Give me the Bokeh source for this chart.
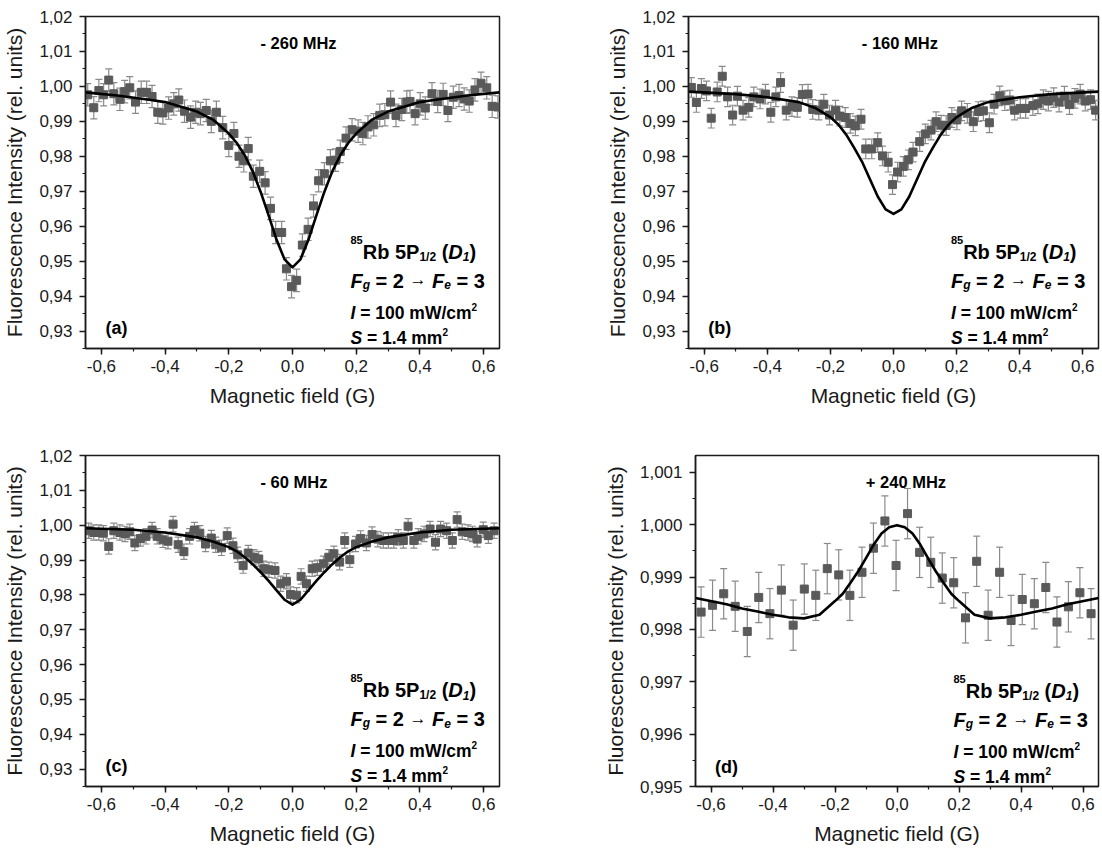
import numpy as np
from bokeh.plotting import figure
from bokeh.models import (ColumnDataSource, Whisker, TeeHead, Label, FixedTicker,
                          CustomJSTickFormatter)
from bokeh.layouts import column, row
from bokeh.embed import file_html
from bokeh.resources import INLINE

FONT = "Liberation Sans"

# ---------------- data ----------------
A_X = [-0.643,-0.624,-0.608,-0.593,-0.577,-0.561,-0.542,-0.527,-0.511,-0.493,-0.475,-0.458,-0.441,-0.423,-0.407,-0.389,-0.373,-0.357,-0.339,-0.320,-0.304,-0.289,-0.271,-0.255,-0.239,-0.219,-0.200,-0.184,-0.168,-0.153,-0.139,-0.123,-0.103,-0.086,-0.069,-0.053,-0.034,-0.019,-0.003,0.013,0.031,0.049,0.066,0.082,0.100,0.119,0.135,0.150,0.168,0.187,0.206,0.221,0.237,0.255,0.274,0.290,0.308,0.325,0.343,0.359,0.369,0.385,0.401,0.417,0.438,0.456,0.473,0.488,0.505,0.523,0.539,0.555,0.573,0.592,0.610,0.627,0.645]
A_Y = [0.9976,0.9939,0.9988,0.9976,1.0018,0.9979,0.9963,0.9985,0.9996,0.9955,0.9983,0.9983,0.9971,0.9926,0.9924,0.9938,0.9950,0.9961,0.9929,0.9912,0.9926,0.9922,0.9931,0.9900,0.9926,0.9882,0.9831,0.9865,0.9800,0.9787,0.9822,0.9743,0.9757,0.9724,0.9651,0.9582,0.9582,0.9478,0.9427,0.9445,0.9546,0.9591,0.9658,0.9730,0.9750,0.9787,0.9789,0.9814,0.9852,0.9876,0.9872,0.9865,0.9884,0.9890,0.9917,0.9919,0.9955,0.9917,0.9934,0.9955,0.9957,0.9922,0.9950,0.9938,0.9979,0.9957,0.9977,0.9931,0.9969,0.9974,0.9964,0.9958,0.9990,1.0009,0.9996,0.9943,0.9941]
A_ERR = 0.0032
A_FIT_X = [-0.65,-0.55,-0.45,-0.4,-0.3,-0.25,-0.2,-0.175,-0.15,-0.125,-0.1,-0.075,-0.05,-0.025,0.0,0.025,0.05,0.075,0.1,0.125,0.15,0.175,0.2,0.25,0.3,0.4,0.45,0.55,0.65]
A_FIT_Y = [0.9983,0.9974,0.9962,0.9955,0.9928,0.9905,0.9865,0.9838,0.9803,0.9757,0.9698,0.9631,0.9561,0.9505,0.9482,0.9505,0.9561,0.9631,0.9698,0.9757,0.9803,0.9838,0.9865,0.9905,0.9928,0.9955,0.9962,0.9974,0.9983]

B_X = [-0.641,-0.625,-0.609,-0.593,-0.578,-0.559,-0.543,-0.526,-0.510,-0.495,-0.477,-0.459,-0.443,-0.423,-0.406,-0.389,-0.373,-0.358,-0.340,-0.322,-0.305,-0.289,-0.271,-0.256,-0.237,-0.221,-0.203,-0.184,-0.170,-0.153,-0.137,-0.121,-0.103,-0.088,-0.069,-0.050,-0.035,-0.017,-0.003,0.013,0.031,0.047,0.062,0.083,0.101,0.119,0.135,0.151,0.167,0.185,0.201,0.216,0.234,0.253,0.269,0.285,0.304,0.319,0.337,0.353,0.369,0.384,0.402,0.419,0.442,0.458,0.475,0.491,0.508,0.525,0.542,0.558,0.575,0.592,0.608,0.625,0.641]
B_Y = [0.9997,0.9954,0.9994,0.9987,0.9909,0.9984,1.0029,0.9970,0.9918,0.9972,0.9932,0.9940,0.9970,0.9964,0.9978,0.9926,0.9970,1.0011,0.9932,0.9942,0.9940,0.9977,0.9978,0.9934,0.9932,0.9949,0.9918,0.9932,0.9915,0.9911,0.9894,0.9887,0.9906,0.9821,0.9821,0.9839,0.9801,0.9783,0.9719,0.9755,0.9771,0.9790,0.9812,0.9842,0.9864,0.9875,0.9899,0.9889,0.9888,0.9911,0.9904,0.9930,0.9923,0.9899,0.9928,0.9930,0.9896,0.9949,0.9973,0.9959,0.9961,0.9932,0.9937,0.9937,0.9945,0.9950,0.9962,0.9958,0.9968,0.9955,0.9972,0.9948,0.9966,0.9978,0.9958,0.9962,0.9932]
B_ERR = 0.0028
B_FIT_X = [-0.65,-0.5,-0.4,-0.3,-0.25,-0.2,-0.175,-0.15,-0.125,-0.1,-0.075,-0.05,-0.025,0.0,0.025,0.05,0.075,0.1,0.125,0.15,0.175,0.2,0.25,0.3,0.4,0.5,0.65]
B_FIT_Y = [0.9985,0.9978,0.9969,0.9955,0.9939,0.9912,0.9891,0.9862,0.9825,0.9785,0.9735,0.9685,0.9648,0.9635,0.9648,0.9685,0.9735,0.9785,0.9825,0.9862,0.9891,0.9912,0.9939,0.9955,0.9969,0.9978,0.9985]

C_X = [-0.640,-0.624,-0.608,-0.594,-0.577,-0.561,-0.542,-0.526,-0.511,-0.495,-0.477,-0.460,-0.441,-0.425,-0.407,-0.391,-0.375,-0.359,-0.341,-0.323,-0.308,-0.291,-0.273,-0.255,-0.241,-0.223,-0.205,-0.187,-0.172,-0.155,-0.139,-0.121,-0.106,-0.090,-0.074,-0.055,-0.037,-0.019,-0.006,0.013,0.027,0.044,0.062,0.078,0.097,0.114,0.130,0.148,0.164,0.180,0.198,0.214,0.232,0.250,0.268,0.285,0.301,0.318,0.332,0.348,0.363,0.381,0.395,0.413,0.432,0.449,0.465,0.484,0.502,0.517,0.533,0.551,0.565,0.580,0.599,0.615,0.633]
C_Y = [0.9984,0.9979,0.9979,0.9977,0.9939,0.9984,0.9979,0.9975,0.9981,0.9949,0.9962,0.9968,0.9986,0.9968,0.9958,0.9954,1.0003,0.9944,0.9924,0.9968,0.9986,0.9977,0.9946,0.9963,0.9944,0.9935,0.9970,0.9941,0.9915,0.9884,0.9920,0.9908,0.9903,0.9875,0.9872,0.9870,0.9832,0.9839,0.9801,0.9799,0.9853,0.9832,0.9875,0.9878,0.9889,0.9908,0.9918,0.9894,0.9956,0.9901,0.9946,0.9962,0.9949,0.9973,0.9960,0.9956,0.9956,0.9956,0.9965,0.9956,0.9997,0.9956,0.9968,0.9975,0.9989,0.9951,0.9989,0.9984,0.9956,1.0016,0.9981,0.9979,0.9975,0.9960,0.9987,0.9970,0.9984]
C_ERR = 0.0022
C_FIT_X = [-0.65,-0.5,-0.4,-0.3,-0.25,-0.2,-0.175,-0.15,-0.125,-0.1,-0.075,-0.05,-0.025,0.0,0.025,0.05,0.075,0.1,0.125,0.15,0.175,0.2,0.25,0.3,0.4,0.5,0.65]
C_FIT_Y = [0.9991,0.9987,0.9979,0.9965,0.9953,0.9937,0.9925,0.9908,0.9888,0.9865,0.9840,0.9813,0.9786,0.9772,0.9786,0.9813,0.9840,0.9865,0.9888,0.9908,0.9925,0.9937,0.9953,0.9965,0.9979,0.9987,0.9991]

D_X = [-0.632,-0.595,-0.559,-0.522,-0.483,-0.446,-0.410,-0.373,-0.335,-0.299,-0.262,-0.225,-0.188,-0.152,-0.113,-0.076,-0.039,-0.003,0.034,0.073,0.109,0.146,0.183,0.221,0.257,0.294,0.331,0.368,0.404,0.443,0.480,0.516,0.553,0.590,0.626]
D_Y = [0.99833,0.99846,0.99868,0.99844,0.99796,0.99861,0.99830,0.99875,0.99808,0.99877,0.99865,0.99916,0.99904,0.99865,0.99909,0.99955,1.00007,0.99922,1.00021,0.99947,0.99928,0.99898,0.99889,0.99822,0.99930,0.99827,0.99909,0.99817,0.99857,0.99849,0.99880,0.99814,0.99843,0.99870,0.99830]
D_ERR = 0.00048
D_FIT_X = [-0.65,-0.55,-0.5,-0.45,-0.4,-0.35,-0.3,-0.25,-0.2,-0.175,-0.15,-0.125,-0.1,-0.075,-0.05,-0.025,0.0,0.025,0.05,0.075,0.1,0.125,0.15,0.175,0.2,0.25,0.3,0.35,0.4,0.45,0.5,0.55,0.65]
D_FIT_Y = [0.99860,0.99848,0.99840,0.99834,0.99828,0.99823,0.99821,0.99828,0.99854,0.99868,0.99889,0.99911,0.99936,0.99962,0.99983,0.99995,0.99999,0.99995,0.99983,0.99962,0.99936,0.99911,0.99889,0.99868,0.99854,0.99828,0.99821,0.99823,0.99828,0.99834,0.99840,0.99848,0.99860]

TITLES = ["- 260 MHz", "- 160 MHz", "- 60 MHz", "+ 240 MHz"]
TAGS = ["(a)", "(b)", "(c)", "(d)"]
X_TICKS = [-0.6, -0.4, -0.2, 0.0, 0.2, 0.4, 0.6]
Y_TICKS_ABC = [0.93, 0.94, 0.95, 0.96, 0.97, 0.98, 0.99, 1.00, 1.01, 1.02]
Y_TICKS_D = [0.995, 0.996, 0.997, 0.998, 0.999, 1.000, 1.001]

# ---------------- helpers ----------------
BW = {' ': .278, '(': .333, ')': .333, '+': .584, '-': .333, '.': .278, '/': .278,
      '=': .584, 'D': .722, 'F': .611, 'H': .722, 'I': .278, 'M': .833, 'P': .667,
      'R': .722, 'S': .667, 'W': .944, 'a': .556, 'b': .611, 'c': .556, 'd': .611,
      'e': .556, 'g': .611, 'm': .889, 'z': .5, '\u2192': 1.0}


def tw(txt, size):
    return sum(BW.get(ch, .556) for ch in txt) * size


def runs(p, x, y, pieces):
    """Place text pieces one after another; spaces are turned into offsets
    (SVG text drops leading / trailing blanks)."""
    off = 0.0
    for txt, size, style, dy in pieces:
        core = txt.strip(" ")
        lead = len(txt) - len(txt.lstrip(" "))
        start = off + lead * BW[' '] * size
        if core:
            p.add_layout(Label(x=x, y=y, x_offset=start, y_offset=dy, text=core,
                               text_font=FONT, text_font_size=f"{size}px",
                               text_font_style=style, text_baseline="alphabetic",
                               text_align="left", text_color="black"))
        off += tw(txt, size)


def make(width, height, yr, yticks, ydec, left, right, top, bottom):
    p = figure(width=width, height=height, x_range=(-0.65, 0.65), y_range=yr,
               output_backend="svg", toolbar_location=None,
               min_border_left=left, min_border_right=right,
               min_border_top=top, min_border_bottom=bottom)
    p.grid.visible = False
    p.outline_line_color = "#1a1a1a"
    p.outline_line_width = 1.5
    step = (yticks[1] - yticks[0]) / 2.0
    yminor = [yticks[0] - step + i * step for i in range(2 * len(yticks) + 1)]
    p.xaxis.ticker = FixedTicker(ticks=X_TICKS,
                                 minor_ticks=[-0.6 + 0.1 * i for i in range(13)])
    p.yaxis.ticker = FixedTicker(ticks=yticks, minor_ticks=yminor)
    p.xaxis.formatter = CustomJSTickFormatter(code="return tick.toFixed(1).replace('.', ',');")
    p.yaxis.formatter = CustomJSTickFormatter(code=f"return tick.toFixed({ydec}).replace('.', ',');")
    for ax in (p.xaxis, p.yaxis):
        ax.axis_line_width = 1.5
        ax.axis_line_color = "#1a1a1a"
        ax.major_tick_line_width = 1.5
        ax.major_tick_line_color = "#1a1a1a"
        ax.minor_tick_line_width = 1.2
        ax.minor_tick_line_color = "#1a1a1a"
        ax.major_tick_in = 0
        ax.major_tick_out = 6
        ax.minor_tick_in = 0
        ax.minor_tick_out = 3
        ax.major_label_text_font = FONT
        ax.major_label_text_font_size = "17px"
        ax.major_label_text_color = "#1a1a1a"
        ax.axis_label_text_font = FONT
        ax.axis_label_text_font_size = "21px"
        ax.axis_label_text_font_style = "normal"
        ax.axis_label_text_color = "#1a1a1a"
    p.xaxis.axis_label = "Magnetic field (G)"
    p.yaxis.axis_label = "Fluorescence Intensity (rel. units)"
    p.xaxis.major_label_standoff = 5
    p.yaxis.major_label_standoff = 7
    p.xaxis.axis_label_standoff = 9
    p.yaxis.axis_label_standoff = 10
    return p


def panel(p, xs, ys, err, fx, fy, title, tag, fh):
    y0, y1 = p.y_range.start, p.y_range.end
    ppx = (y1 - y0) / fh          # data units per pixel (reference frame height)
    xpx = 1.3 / 414.0

    def X(dx):
        return -0.65 + dx * xpx

    def Y(dy):
        return y1 - dy * ppx

    src = ColumnDataSource(dict(x=xs, y=ys,
                                lo=[v - err for v in ys], hi=[v + err for v in ys]))
    wc = "#8a8a8a"
    w = Whisker(source=src, base="x", upper="hi", lower="lo", line_color=wc,
                line_width=1.2,
                upper_head=TeeHead(size=7, line_color=wc, line_width=1.2),
                lower_head=TeeHead(size=7, line_color=wc, line_width=1.2))
    w.level = "underlay"
    p.add_layout(w)
    p.scatter("x", "y", source=src, marker="square", size=8,
              fill_color="#5a5a5a", line_color="#5a5a5a")
    p.line(fx, fy, line_color="black", line_width=2.6, line_join="round")

    runs(p, X(175), Y(26.7), [(title, 16.5, "bold", 0)])
    runs(p, X(20), Y(313), [(tag, 18, "bold", 0)])
    bx = X(265)
    runs(p, bx, Y(236.7), [("85", 11, "bold", 12), ("Rb 5P", 20, "bold", 0),
                           ("1/2", 12, "bold", -5), (" (", 20, "bold", 0),
                           ("D", 20, "bold italic", 0), ("1", 12, "bold italic", -5),
                           (")", 20, "bold", 0)])
    runs(p, bx, Y(266), [("F", 20, "bold italic", 0), ("g", 12, "bold italic", -4),
                         (" = 2 ", 20, "bold", 0), ("\u2192", 17, "bold", 1),
                         (" ", 20, "bold", 0), ("F", 20, "bold italic", 0),
                         ("e", 12, "bold italic", -4), (" = 3", 20, "bold", 0)])
    runs(p, bx, Y(298), [("I", 17.5, "bold italic", 0),
                         (" = 100 mW/cm", 17.5, "bold", 0), ("2", 10, "bold", 6)])
    runs(p, bx, Y(323.3), [("S", 17.5, "bold italic", 0),
                           (" = 1.4 mm", 17.5, "bold", 0), ("2", 10, "bold", 6)])


pa = make(600, 433, (0.925, 1.02), Y_TICKS_ABC, 2, 85, 101, 14, 85)
pb = make(500, 433, (0.925, 1.02), Y_TICKS_ABC, 2, 88, 2, 16, 83)
pc = make(600, 415, (0.925, 1.02), Y_TICKS_ABC, 2, 85, 101, 20, 62)
pd = make(500, 415, (0.995, 1.00132), Y_TICKS_D, 3, 88, 2, 22, 60)

panel(pa, A_X, A_Y, A_ERR, A_FIT_X, A_FIT_Y, TITLES[0], TAGS[0], 334)
panel(pb, B_X, B_Y, B_ERR, B_FIT_X, B_FIT_Y, TITLES[1], TAGS[1], 334)
panel(pc, C_X, C_Y, C_ERR, C_FIT_X, C_FIT_Y, TITLES[2], TAGS[2], 334)
panel(pd, D_X, D_Y, D_ERR, D_FIT_X, D_FIT_Y, TITLES[3], TAGS[3], 333)

layout = column(row(pa, pb), row(pc, pd))
open("out.html", "w").write(file_html(layout, INLINE))
